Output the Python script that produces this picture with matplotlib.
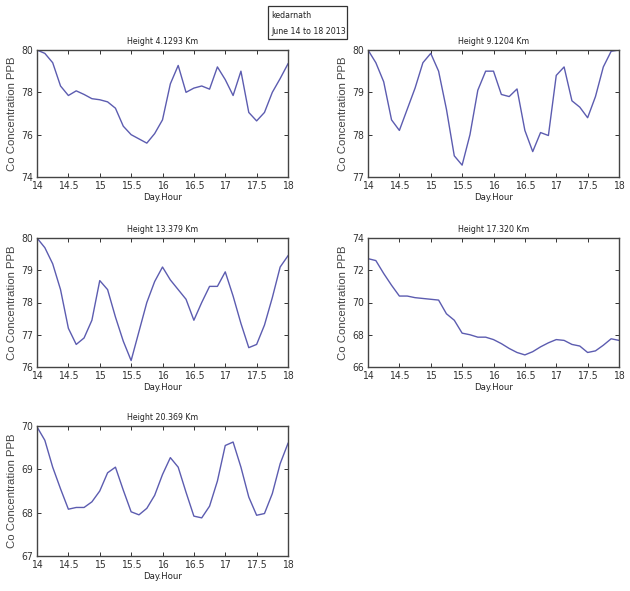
import numpy as np
import matplotlib
matplotlib.use("Agg")
import matplotlib.pyplot as plt
from matplotlib.patches import Rectangle

plt.rcParams["font.family"] = ["DejaVu Sans"]
plt.rcParams["font.stretch"] = "condensed"

# sampled every 3 hours from June 14 to June 18
day_hour = [14 + i / 8 for i in range(33)]

co_4129 = [80.0, 79.84, 79.4, 78.3, 77.85, 78.07, 77.9, 77.7, 77.65, 77.55, 77.25,
           76.4, 76.0, 75.8, 75.6, 76.05, 76.7, 78.4, 79.27, 78.0, 78.2, 78.3,
           78.15, 79.2, 78.6, 77.85, 79.0, 77.05, 76.65, 77.05, 78.0, 78.65, 79.35]
co_9120 = [80.0, 79.7, 79.25, 78.35, 78.1, 78.6, 79.1, 79.7, 79.92, 79.5, 78.6,
           77.5, 77.28, 78.0, 79.05, 79.5, 79.5, 78.95, 78.9, 79.08, 78.1, 77.6,
           78.05, 77.98, 79.4, 79.6, 78.8, 78.65, 78.4, 78.9, 79.6, 79.97, 80.0]
co_13379 = [80.0, 79.7, 79.2, 78.4, 77.2, 76.7, 76.9, 77.45, 78.68, 78.4, 77.55,
            76.8, 76.2, 77.1, 78.0, 78.65, 79.1, 78.7, 78.4, 78.1, 77.45, 78.0,
            78.5, 78.5, 78.95, 78.2, 77.35, 76.6, 76.7, 77.3, 78.15, 79.1, 79.45]
co_17320 = [72.72, 72.6, 71.8, 71.07, 70.4, 70.4, 70.3, 70.25, 70.2, 70.15, 69.3,
            68.9, 68.1, 68.0, 67.85, 67.85, 67.7, 67.45, 67.15, 66.9, 66.75, 66.95,
            67.25, 67.5, 67.7, 67.65, 67.4, 67.3, 66.9, 67.0, 67.35, 67.75, 67.65]
co_20369 = [69.98, 69.67, 69.05, 68.55, 68.08, 68.12, 68.12, 68.25, 68.5, 68.92, 69.05,
            68.52, 68.02, 67.95, 68.1, 68.4, 68.88, 69.27, 69.05, 68.47, 67.92, 67.88,
            68.15, 68.73, 69.55, 69.63, 69.05, 68.36, 67.94, 67.98, 68.44, 69.13, 69.6]

titles = ["Height 4.1293 Km", "Height 9.1204 Km", "Height 13.379 Km",
          "Height 17.320 Km", "Height 20.369 Km"]
series = [co_4129, co_9120, co_13379, co_17320, co_20369]
y_limits = [(74, 80), (77, 80), (76, 80), (66, 74), (67, 70)]
y_steps = [2, 1, 1, 2, 1]
x_ticks = [14, 14.5, 15, 15.5, 16, 16.5, 17, 17.5, 18]

W, H = 630, 591
# panel boxes in pixels: left, top, right, bottom
boxes = [(37, 50, 288, 177), (368, 50, 619, 177), (37, 238, 288, 367),
         (368, 238, 619, 367), (37, 426, 288, 556)]

fig = plt.figure(figsize=(W / 100, H / 100), dpi=100)
fig.patch.set_facecolor("white")

for (l, t, r, b), title, ys, ylim, step in zip(boxes, titles, series, y_limits, y_steps):
    ax = fig.add_axes([l / W, 1 - b / H, (r - l) / W, (b - t) / H])
    ax.plot(day_hour, ys, color="#5c5cb0", linewidth=1.0)
    ax.set_xlim(14, 18)
    ax.set_ylim(*ylim)
    ax.set_xticks(x_ticks)
    ax.set_xticklabels([f"{v:g}" for v in x_ticks])
    ax.set_yticks(np.arange(ylim[0], ylim[1] + 0.01, step))
    ax.tick_params(direction="in", top=True, right=True, length=3, width=0.7,
                   labelsize=7.5, colors="#333333")
    ax.tick_params(axis="x", pad=3)
    ax.tick_params(axis="y", pad=3)
    for sp in ax.spines.values():
        sp.set_color("#444444")
        sp.set_linewidth(1.0)
    ax.set_title(title, fontsize=6.3, pad=4, color="#222222")
    ax.set_xlabel("Day.Hour", fontsize=6.8, labelpad=1, color="#222222")
    ax.set_ylabel("Co Concentration PPB", fontsize=8.2, labelpad=3, color="#444444",
                  family=["Liberation Sans", "DejaVu Sans"], stretch="normal")

# annotation box in the top centre
box_l, box_t, box_r, box_b = 268, 6, 347, 39
fig.patches.append(Rectangle((box_l / W, 1 - box_b / H), (box_r - box_l) / W,
                             (box_b - box_t) / H, transform=fig.transFigure,
                             facecolor="white", edgecolor="#333333", linewidth=0.9))
fig.text(271 / W, 1 - 16 / H, "kedarnath", fontsize=6.3, va="center", ha="left",
         color="#222222")
fig.text(271 / W, 1 - 31 / H, "June 14 to 18 2013", fontsize=6.3, va="center",
         ha="left", color="#222222")

fig.savefig("out.png", dpi=100, facecolor="white")
